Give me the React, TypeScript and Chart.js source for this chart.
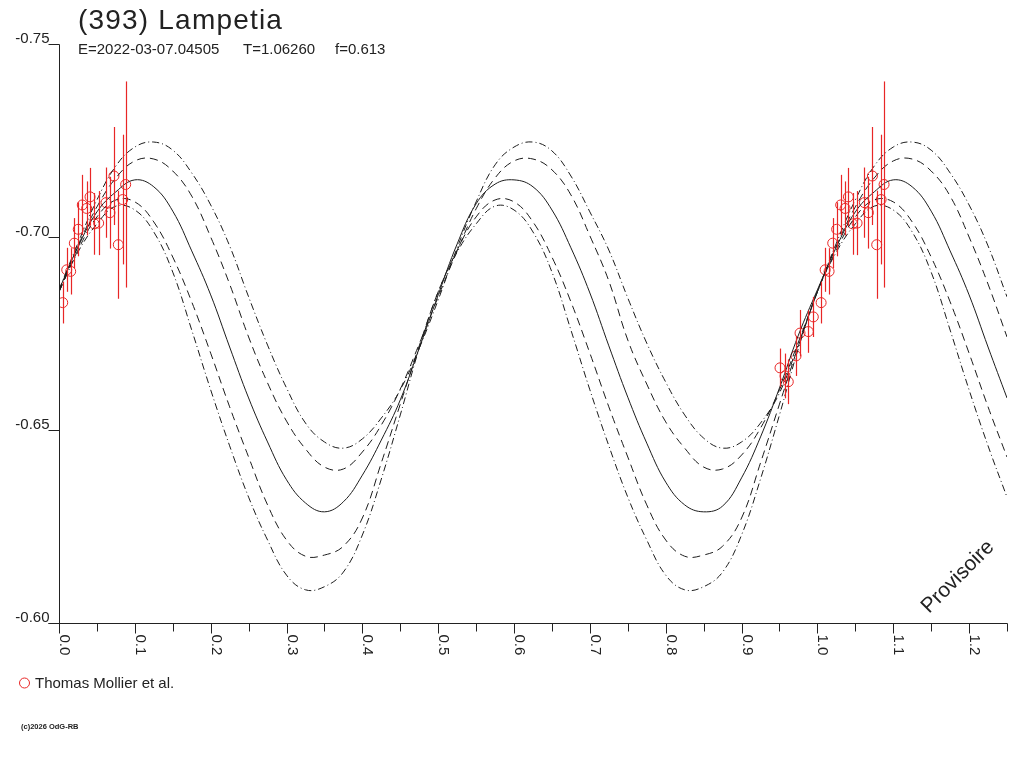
import React, { useEffect, useRef } from "react";
import { Chart, registerables } from "chart.js";

Chart.register(...registerables);

// ---- Data ----
const TITLE = "(393) Lampetia";
const SUB_E = "E=2022-03-07.04505";
const SUB_T = "T=1.06260";
const SUB_F = "f=0.613";
const LEGEND_LABEL = "Thomas Mollier et al.";
const COPYRIGHT = "(c)2026 OdG-RB";
const WATERMARK = "Provisoire";

const X_TICKS = [0, 0.05, 0.1, 0.15, 0.2, 0.25, 0.3, 0.35, 0.4, 0.45, 0.5, 0.55, 0.6, 0.65, 0.7, 0.75, 0.8, 0.85, 0.9, 0.95, 1.0, 1.05, 1.1, 1.15, 1.2, 1.25];
const X_LABEL_VALUES = [0, 0.1, 0.2, 0.3, 0.4, 0.5, 0.6, 0.7, 0.8, 0.9, 1.0, 1.1, 1.2];
const X_LABELS = ["0.0", "0.1", "0.2", "0.3", "0.4", "0.5", "0.6", "0.7", "0.8", "0.9", "1.0", "1.1", "1.2"];
const Y_TICKS = [-0.75, -0.7, -0.65, -0.6];
const Y_LABELS = ["-0.75", "-0.70", "-0.65", "-0.60"];

// Model curves, sampled in phase
const PHASE = [0, 0.025, 0.05, 0.075, 0.1, 0.125, 0.15, 0.175, 0.2, 0.225, 0.25, 0.275, 0.3, 0.325, 0.35, 0.375, 0.4, 0.425, 0.45, 0.475, 0.5, 0.525, 0.55, 0.575, 0.6, 0.625, 0.65, 0.675, 0.7, 0.725, 0.75, 0.775, 0.8, 0.825, 0.85, 0.875, 0.9, 0.925, 0.95, 0.975, 1.0, 1.025, 1.05, 1.075, 1.1, 1.125, 1.15, 1.175, 1.2, 1.225, 1.25];

const FIT = [-0.6863, -0.6974, -0.7065, -0.7117, -0.7148, -0.7130, -0.7067, -0.6964, -0.6850, -0.6715, -0.6583,
  -0.6469, -0.6371, -0.6311, -0.6288, -0.6314, -0.6383, -0.6474, -0.6578, -0.6712, -0.6850,
  -0.6982, -0.7086, -0.7137, -0.7148, -0.7130, -0.7070, -0.6972, -0.6855, -0.6718, -0.6585,
  -0.6466, -0.6365, -0.6306, -0.6288, -0.6303, -0.6376, -0.6482, -0.6609, -0.6746, -0.6863,
  -0.6974, -0.7065, -0.7117, -0.7148, -0.7130, -0.7067, -0.6964, -0.6850, -0.6715, -0.6583];

const FIT_UP_DASH = [-0.6858, -0.6977, -0.7078, -0.7153, -0.7197, -0.7202, -0.7171, -0.7106, -0.7000, -0.6878, -0.6741,
  -0.6622, -0.6523, -0.6451, -0.6404, -0.6399, -0.6443, -0.6513, -0.6606, -0.6723, -0.6845,
  -0.6964, -0.7073, -0.7153, -0.7197, -0.7202, -0.7174, -0.7109, -0.7003, -0.6886, -0.6733,
  -0.6619, -0.6521, -0.6453, -0.6404, -0.6399, -0.6435, -0.6505, -0.6604, -0.6728, -0.6858,
  -0.6977, -0.7078, -0.7153, -0.7197, -0.7202, -0.7171, -0.7106, -0.7000, -0.6878, -0.6741];

const FIT_UP_DASHDOT = [-0.6863, -0.6984, -0.7096, -0.7184, -0.7233, -0.7246, -0.7225, -0.7166, -0.7083, -0.6977, -0.6845,
  -0.6720, -0.6609, -0.6518, -0.6469, -0.6453, -0.6477, -0.6531, -0.6604, -0.6712, -0.6837,
  -0.6972, -0.7091, -0.7187, -0.7233, -0.7246, -0.7223, -0.7158, -0.7065, -0.6966, -0.6842,
  -0.6725, -0.6624, -0.6539, -0.6479, -0.6453, -0.6469, -0.6518, -0.6596, -0.6723, -0.6858,
  -0.6984, -0.7096, -0.7184, -0.7233, -0.7246, -0.7225, -0.7166, -0.7083, -0.6977, -0.6845];

const FIT_LOW_DASH = [-0.6858, -0.6966, -0.7052, -0.7096, -0.7091, -0.7039, -0.6948, -0.6832, -0.6699, -0.6560, -0.6430,
  -0.6306, -0.6215, -0.6173, -0.6176, -0.6199, -0.6272, -0.6415, -0.6567, -0.6718, -0.6858,
  -0.6966, -0.7052, -0.7096, -0.7091, -0.7039, -0.6948, -0.6832, -0.6699, -0.6560, -0.6430,
  -0.6306, -0.6215, -0.6173, -0.6176, -0.6199, -0.6272, -0.6415, -0.6567, -0.6718, -0.6858,
  -0.6966, -0.7052, -0.7096, -0.7091, -0.7039, -0.6948, -0.6832, -0.6699, -0.6560, -0.6430];

const FIT_LOW_DASHDOT = [-0.6858, -0.6961, -0.7034, -0.7080, -0.7070, -0.7013, -0.6909, -0.6759, -0.6604, -0.6459, -0.6326,
  -0.6215, -0.6124, -0.6086, -0.6094, -0.6132, -0.6228, -0.6373, -0.6539, -0.6712, -0.6858,
  -0.6961, -0.7034, -0.7080, -0.7070, -0.7013, -0.6909, -0.6759, -0.6604, -0.6459, -0.6326,
  -0.6215, -0.6124, -0.6086, -0.6094, -0.6132, -0.6228, -0.6373, -0.6539, -0.6712, -0.6858,
  -0.6961, -0.7034, -0.7080, -0.7070, -0.7013, -0.6909, -0.6759, -0.6604, -0.6459, -0.6326];

// Observations (phase, reduced magnitude, error) - plotted at phase and phase+1
const OBS_PHASE = [-0.0493, -0.0427, -0.0384, -0.0282, -0.0229, -0.0120, -0.0054,
  0.0049, 0.0102, 0.0154, 0.0202, 0.0254, 0.0307, 0.0365, 0.0409, 0.0465, 0.0523, 0.0620, 0.0672, 0.0725, 0.0782, 0.0840, 0.0879];
const OBS_MAG = [-0.6661, -0.6640, -0.6625, -0.6692, -0.6751, -0.6755, -0.6793,
  -0.6830, -0.6915, -0.6911, -0.6984, -0.7020, -0.7083, -0.7074, -0.7104, -0.7034, -0.7036, -0.7089, -0.7063, -0.7158, -0.6980, -0.7097, -0.7136];
const OBS_ERR = [0.0050, 0.0058, 0.0058, 0.0052, 0.0060, 0.0055, 0.0052,
  0.0054, 0.0057, 0.0060, 0.0065, 0.0070, 0.0078, 0.0070, 0.0075, 0.0080, 0.0083, 0.0091, 0.0093, 0.0127, 0.0140, 0.0168, 0.0267];

const RED = "rgb(232,38,38)";
const INK = "#222222";
const FONT = '"Liberation Sans", Arial, Helvetica, sans-serif';

function obsPoints() {
  const pts: { x: number; y: number; e: number }[] = [];
  OBS_PHASE.forEach((p, i) => {
    if (p >= 0) pts.push({ x: p, y: OBS_MAG[i], e: OBS_ERR[i] });
    pts.push({ x: p + 1, y: OBS_MAG[i], e: OBS_ERR[i] });
  });
  return pts;
}

function curve(values: number[]) {
  return PHASE.map((p, i) => ({ x: p, y: values[i] }));
}

const decorPlugin = {
  id: "decor",
  afterDatasetsDraw(chart: any) {
    const ctx = chart.ctx;
    const xs = chart.scales.x;
    const ys = chart.scales.y;
    ctx.save();
    ctx.strokeStyle = RED;
    ctx.lineWidth = 1.2;
    obsPoints().forEach((pt) => {
      const x = Math.round(xs.getPixelForValue(pt.x)) + 0.5;
      ctx.beginPath();
      ctx.moveTo(x, ys.getPixelForValue(pt.y - pt.e));
      ctx.lineTo(x, ys.getPixelForValue(pt.y + pt.e));
      ctx.stroke();
    });
    ctx.restore();
  },
  afterDraw(chart: any) {
    const ctx = chart.ctx;
    const xs = chart.scales.x;
    const ys = chart.scales.y;
    const L = Math.round(xs.getPixelForValue(0)) + 0.5;
    const R = Math.round(xs.getPixelForValue(1.25)) + 0.5;
    const T = Math.round(ys.getPixelForValue(-0.75)) + 0.5;
    const B = Math.round(ys.getPixelForValue(-0.6)) + 0.5;
    ctx.save();
    ctx.strokeStyle = INK;
    ctx.fillStyle = INK;
    ctx.lineWidth = 1;

    // y axis
    ctx.beginPath();
    ctx.moveTo(L, T);
    ctx.lineTo(L, B);
    ctx.stroke();
    ctx.font = `15px ${FONT}`;
    ctx.textAlign = "right";
    ctx.textBaseline = "alphabetic";
    Y_TICKS.forEach((v, i) => {
      const y = Math.round(ys.getPixelForValue(v)) + 0.5;
      ctx.beginPath();
      ctx.moveTo(L - 11, y);
      ctx.lineTo(L, y);
      ctx.stroke();
      ctx.fillText(Y_LABELS[i], L - 10, y - 2);
    });

    // x axis
    ctx.beginPath();
    ctx.moveTo(L - 11, B);
    ctx.lineTo(R, B);
    ctx.stroke();
    X_TICKS.forEach((v, i) => {
      const x = Math.round(xs.getPixelForValue(v)) + 0.5;
      ctx.beginPath();
      ctx.moveTo(x, B);
      ctx.lineTo(x, B + (i % 2 === 0 ? 10 : 8));
      ctx.stroke();
    });
    ctx.textAlign = "left";
    X_LABEL_VALUES.forEach((v, i) => {
      const x = Math.round(xs.getPixelForValue(v));
      ctx.save();
      ctx.translate(x + 1, B + 11);
      ctx.rotate(Math.PI / 2);
      ctx.fillText(X_LABELS[i], 0, 0);
      ctx.restore();
    });

    // Title and subtitle
    ctx.font = `28px ${FONT}`;
    (ctx as any).letterSpacing = "1.2px";
    ctx.fillText(TITLE, 78, 29);
    (ctx as any).letterSpacing = "0px";
    ctx.font = `15px ${FONT}`;
    ctx.fillText(SUB_E, 78, 54);
    ctx.fillText(SUB_T, 243, 54);
    ctx.fillText(SUB_F, 335, 54);

    // Legend
    ctx.strokeStyle = RED;
    ctx.beginPath();
    ctx.arc(24.5, 683, 5, 0, Math.PI * 2);
    ctx.stroke();
    ctx.fillStyle = INK;
    ctx.fillText(LEGEND_LABEL, 35, 688);

    // Copyright
    ctx.font = `bold 7.5px ${FONT}`;
    ctx.fillText(COPYRIGHT, 21, 729);

    // Watermark
    ctx.font = `21px ${FONT}`;
    ctx.textAlign = "center";
    ctx.textBaseline = "middle";
    ctx.translate(958, 577);
    ctx.rotate(-Math.PI / 4);
    ctx.fillText(WATERMARK, 0, 0);
    ctx.restore();
  },
};

export default function App() {
  const ref = useRef<HTMLCanvasElement | null>(null);
  useEffect(() => {
    if (!ref.current) return;
    const lineStyle = (data: number[], dash: number[]) => ({
      type: "line" as const,
      data: curve(data),
      borderColor: "#1c1c1c",
      borderWidth: 1,
      borderDash: dash,
      pointRadius: 0,
      tension: 0.4,
      fill: false,
    });
    const chart = new Chart(ref.current, {
      type: "scatter",
      data: {
        datasets: [
          lineStyle(FIT_UP_DASHDOT, [7, 3, 1, 3]),
          lineStyle(FIT_UP_DASH, [8, 5]),
          lineStyle(FIT, []),
          lineStyle(FIT_LOW_DASH, [8, 5]),
          lineStyle(FIT_LOW_DASHDOT, [7, 3, 1, 3]),
          {
            type: "scatter" as const,
            data: obsPoints().map((p) => ({ x: p.x, y: p.y })),
            pointRadius: 5,
            pointBorderWidth: 1,
            pointBorderColor: RED,
            pointBackgroundColor: "rgba(0,0,0,0)",
            showLine: false,
          } as any,
        ],
      },
      options: {
        responsive: false,
        animation: false,
        devicePixelRatio: 1,
        events: [],
        layout: { padding: { left: 59, top: 44, right: 17, bottom: 145 } },
        scales: {
          x: { type: "linear", min: 0, max: 1.25, display: false },
          y: { type: "linear", min: -0.75, max: -0.6, reverse: true, display: false },
        },
        plugins: { legend: { display: false }, tooltip: { enabled: false }, title: { display: false } },
      },
      plugins: [decorPlugin],
    } as any);
    return () => chart.destroy();
  }, []);
  return (
    <canvas
      ref={ref}
      width={1024}
      height={768}
      style={{ position: "absolute", left: 0, top: 0, width: 1024, height: 768, background: "#fff" }}
    />
  );
}
